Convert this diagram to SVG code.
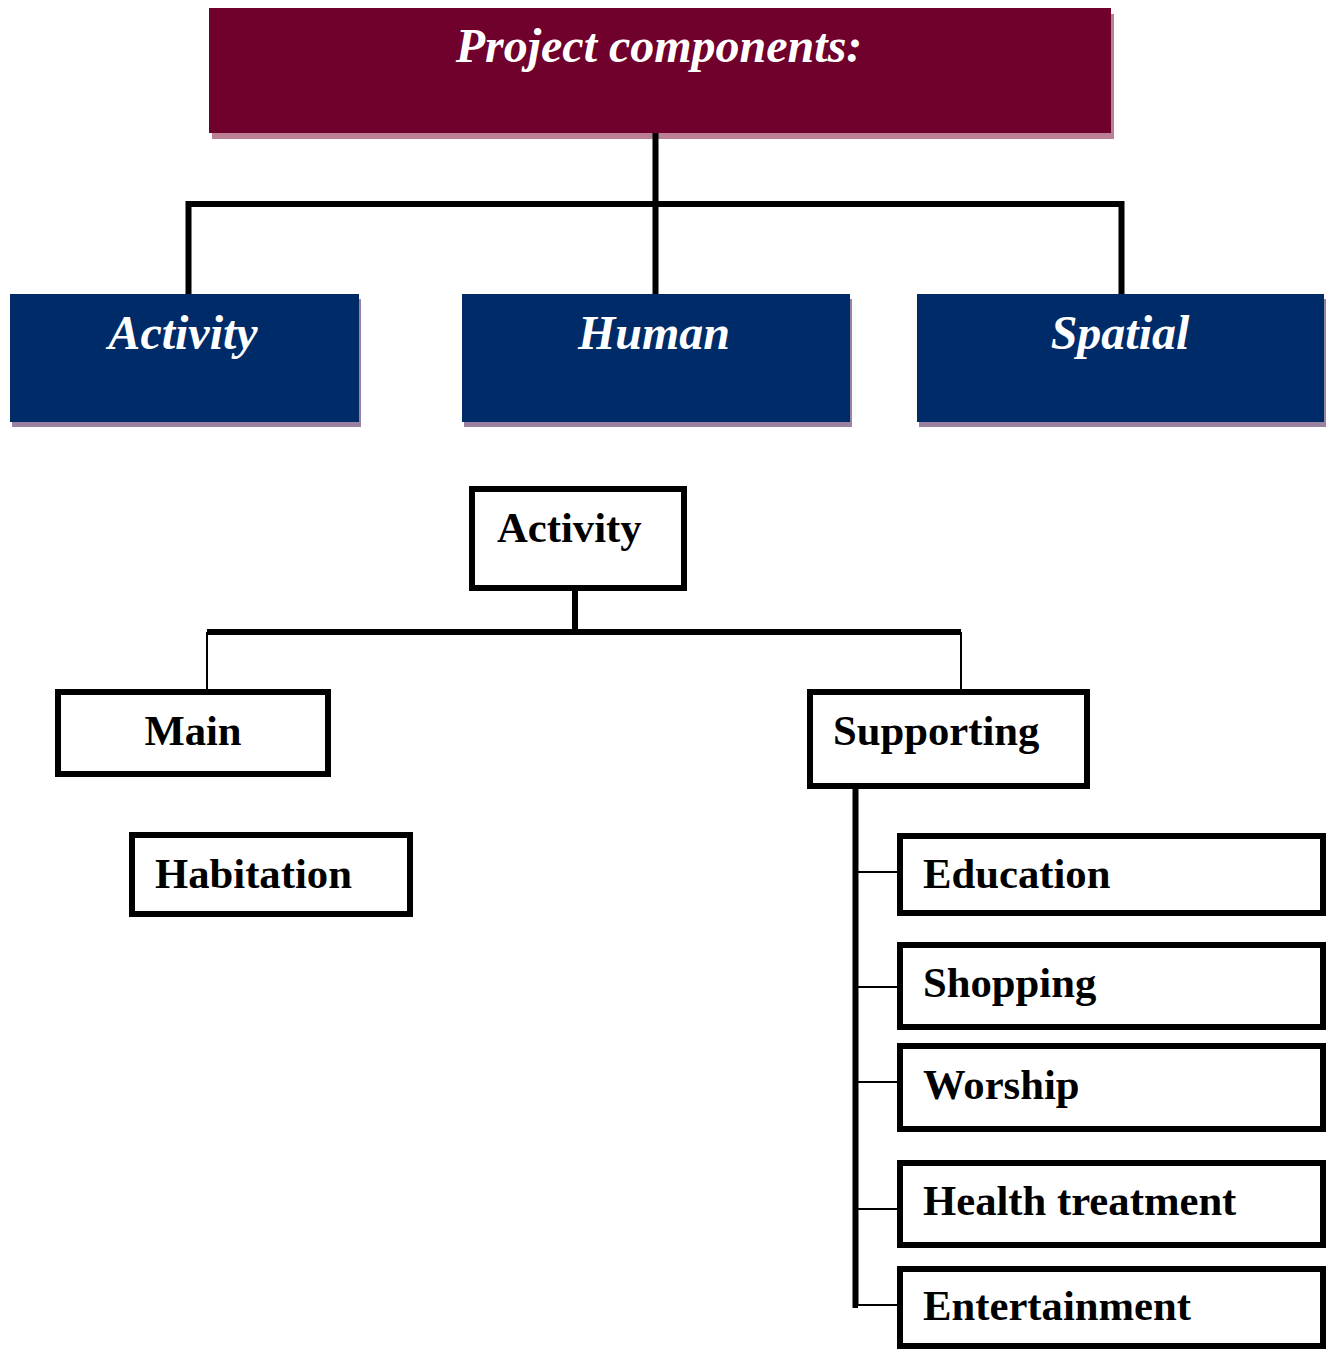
<svg xmlns="http://www.w3.org/2000/svg" width="1327" height="1349" viewBox="0 0 1327 1349">
<style>
.title{font-family:"Liberation Serif","Times New Roman",serif;font-weight:bold;font-style:italic;font-size:48px;fill:#ffffff;text-anchor:middle}
.bt{font-family:"Liberation Serif","Times New Roman",serif;font-weight:bold;font-size:42.7px;fill:#000000}
.box{fill:#ffffff;stroke:#000000;stroke-width:6}
.blue{fill:#002b69}
.bshadow{fill:#9b82a0}
.thick{stroke:#000000;stroke-width:6;fill:none}
.thin{stroke:#000000;stroke-width:2;fill:none}
</style>
<rect width="1327" height="1349" fill="#ffffff"/>
<g id="project-components">
<rect x="212" y="14" width="902" height="125" fill="#bc8096"/>
<rect x="209" y="8" width="902" height="125" fill="#70002c"/>
<text class="title" x="659" y="62">Project components:</text>
</g>
<g id="activity-top">
<rect class="bshadow" x="12" y="299" width="349" height="128"/>
<rect class="blue" x="10" y="294" width="349" height="128"/>
<text class="title" x="183" y="349">Activity</text>
</g>
<g id="human">
<rect class="bshadow" x="464" y="299" width="388" height="128"/>
<rect class="blue" x="462" y="294" width="388" height="128"/>
<text class="title" x="654" y="349">Human</text>
</g>
<g id="spatial">
<rect class="bshadow" x="919" y="299" width="407" height="128"/>
<rect class="blue" x="917" y="294" width="407" height="128"/>
<text class="title" x="1120" y="349">Spatial</text>
</g>
<g id="activity">
<rect class="box" x="472" y="489" width="212" height="99"/>
<text class="bt" x="497" y="542">Activity</text>
</g>
<g id="main">
<rect class="box" x="58" y="692" width="270" height="82"/>
<text class="bt" x="193" y="745" text-anchor="middle">Main</text>
</g>
<g id="habitation">
<rect class="box" x="132" y="835" width="278" height="79"/>
<text class="bt" x="155" y="888">Habitation</text>
</g>
<g id="supporting">
<rect class="box" x="810" y="692" width="277" height="94"/>
<text class="bt" x="833" y="745">Supporting</text>
</g>
<g id="education">
<rect class="box" x="900" y="836" width="423" height="77"/>
<text class="bt" x="923" y="888">Education</text>
</g>
<g id="shopping">
<rect class="box" x="900" y="945" width="423" height="82"/>
<text class="bt" x="923" y="997">Shopping</text>
</g>
<g id="worship">
<rect class="box" x="900" y="1046" width="423" height="83"/>
<text class="bt" x="923" y="1099">Worship</text>
</g>
<g id="health-treatment">
<rect class="box" x="900" y="1163" width="423" height="82"/>
<text class="bt" x="923" y="1215">Health treatment</text>
</g>
<g id="entertainment">
<rect class="box" x="900" y="1269" width="423" height="77"/>
<text class="bt" x="923" y="1320">Entertainment</text>
</g>
<g id="connectors">
<line class="thick" x1="655.5" y1="133" x2="655.5" y2="294"/>
<polyline class="thick" points="188.5,294 188.5,204 1121.5,204 1121.5,294"/>
<line class="thick" x1="575" y1="591" x2="575" y2="632"/>
<line class="thick" x1="207" y1="632" x2="961" y2="632"/>
<line class="thin" x1="207" y1="632" x2="207" y2="689"/>
<line class="thin" x1="961" y1="632" x2="961" y2="689"/>
<polyline class="thick" points="855.5,789 855.5,1305 858,1305"/>
<line class="thin" x1="858" y1="872" x2="897" y2="872"/>
<line class="thin" x1="858" y1="987" x2="897" y2="987"/>
<line class="thin" x1="858" y1="1082" x2="897" y2="1082"/>
<line class="thin" x1="858" y1="1209" x2="897" y2="1209"/>
<line class="thin" x1="858" y1="1305" x2="897" y2="1305"/>
</g>
</svg>
